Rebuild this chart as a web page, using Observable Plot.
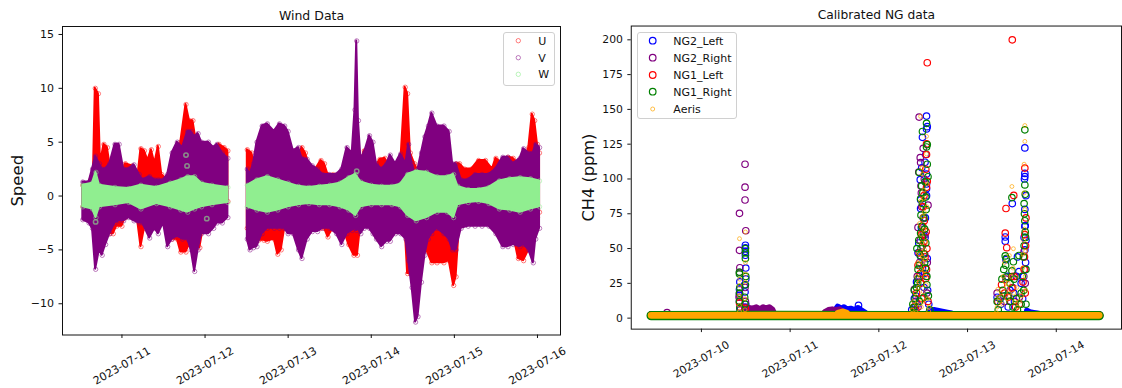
<!DOCTYPE html>
<html><head><meta charset="utf-8">
<script src="https://cdn.jsdelivr.net/npm/d3@7"></script>
<script src="https://cdn.jsdelivr.net/npm/@observablehq/plot@0.6"></script>
<style>
body{margin:0;background:#fff;font-family:"DejaVu Sans",sans-serif;}
#wrap{position:relative;width:1122px;height:388px;overflow:hidden;background:#fff;}
#left{position:absolute;left:0;top:0;z-index:2;}
#right{position:absolute;left:561px;top:0;z-index:1;}
.leg{position:absolute;background:rgba(255,255,255,0.8);border:1px solid #d0d0d0;border-radius:3px;box-sizing:border-box;z-index:3;}
.leg svg{position:absolute;left:0;top:0;overflow:visible;}
</style></head><body>
<div id="wrap"><div id="left"></div><div id="right"></div>
<div class="leg" id="legL" style="left:503px;top:32px;width:52px;height:54px;"></div>
<div class="leg" id="legR" style="left:637px;top:32px;width:100px;height:87px;"></div>
</div>
<script>
// ---------- time helper: hours since 2023-07-10 00:00 UTC ----------
const T0 = Date.UTC(2023, 6, 10);
const t = h => new Date(T0 + h * 3600000);

// ---------- LEFT PANEL: Wind data envelopes [hour, low, high] ----------
const uWind = [
[12.7,-1.0,1.0],[14.5,-1.2,1.2],[15.8,-2.0,2.5],[16.3,-3.0,10.0],[17.2,-3.0,9.5],[17.8,-2.5,3.0],
[18.8,-2.8,4.8],[19.8,-3.0,4.5],[20.5,-3.5,3.0],[21.5,-3.5,2.5],[22.5,-2.8,3.0],[24,-2.8,2.0],
[25,-2.0,3.0],[27,-2.0,2.8],[28.5,-2.2,1.5],[29.5,-4.7,4.4],[30.5,-3.0,4.2],[31.5,-2.5,3.3],
[32.5,-2.5,4.3],[33.5,-2.3,3.0],[34.5,-2.0,4.6],[35.5,-2.0,2.0],[37,-2.0,1.5],[38.5,-4.0,1.5],
[40,-4.0,2.0],[41,-5.2,5.0],[42.5,-5.2,8.5],[43.5,-4.5,7.0],[44.5,-4.0,7.0],[45.5,-4.5,5.0],
[46.5,-4.8,4.0],[48,-2.0,4.3],[49.5,-2.5,3.5],[51,-1.5,4.0],[52,-1.0,4.8],[53.5,-1.0,4.5],[54.6,-0.5,4.2],
[57,NaN,NaN],
[60.2,-3.0,4.3],[61.5,-3.5,4.0],[62.5,-4.0,2.5],[63.5,-4.1,2.0],[65,-4.1,2.0],[66,-4.2,2.0],
[68,-4.0,2.0],[69,-5.4,1.5],[70,-5.0,2.0],[71,-3.0,1.5],[72.5,-2.0,2.0],[74.5,-2.0,3.0],
[76,-2.5,4.5],[77,-2.5,4.0],[78.5,-3.0,2.5],[80,-3.0,2.5],[81.5,-3.0,3.3],[82.5,-3.0,3.0],
[83.5,-3.8,2.0],[85,-3.0,2.0],[86.5,-2.5,2.0],[88,-3.0,1.5],[89.5,-4.5,1.5],[91,-5.5,1.5],
[92,-5.5,2.0],[93,-2.5,3.0],[94,-2.5,4.2],[95.5,-1.5,2.5],[97,-1.5,2.5],[98.5,-1.5,3.4],
[100,-2.4,3.5],[101.5,-2.4,2.5],[103,-3.0,2.0],[104.5,-3.0,3.0],[105.8,-3.0,10.1],[106.5,-7.2,9.5],
[107.3,-7.2,4.0],[108.5,-5.0,3.0],[110,-4.0,2.0],[112,-5.0,1.5],[113.5,-6.2,1.5],[115,-6.2,1.5],
[117,-6.2,1.5],[118.5,-6.0,1.5],[119.8,-8.3,2.0],[120.5,-7.5,3.0],[121.5,-2.5,3.0],[123,-2.0,2.5],
[125,-2.0,2.5],[127,-2.5,3.3],[129,-2.5,3.3],[131,-2.5,2.5],[132,-3.0,3.5],[134,-3.0,3.0],
[135.5,-3.0,3.6],[137,-3.5,3.5],[138.5,-5.8,3.0],[140,-6.0,3.0],[141.5,-5.0,4.5],[142.5,-4.0,7.6],
[143.2,-3.0,7.0],[144,-2.0,4.8],[144.6,-1.5,4.0]];

const vWind = [
[12.7,-2.2,1.3],[14.5,-2.5,1.3],[15.5,-3.0,2.5],[16.4,-6.8,3.7],[17.5,-5.0,3.0],[18.3,-5.5,2.5],
[19.3,-4.5,2.5],[20.5,-3.5,3.0],[22,-2.5,4.8],[23.2,-2.3,4.8],[24.5,-2.3,2.5],[26,-2.0,2.5],
[27.5,-2.3,2.9],[29,-2.5,2.0],[30,-2.5,1.5],[32,-3.9,1.8],[33.5,-3.0,1.5],[34.5,-3.5,1.5],
[36,-2.5,1.5],[37.2,-4.7,2.0],[38.5,-4.0,4.0],[40,-3.7,5.0],[41.5,-4.0,4.5],[43,-4.0,6.0],
[44,-5.0,6.0],[45,-7.0,5.5],[46,-5.0,5.8],[47,-3.5,5.0],[49,-3.5,5.0],[50.5,-3.0,4.5],
[51.5,-2.5,4.8],[53,-2.5,4.0],[54.6,-2.0,3.5],
[57,NaN,NaN],
[60.2,-4.0,2.5],[61,-5.0,2.0],[62,-4.8,3.0],[63,-4.7,5.0],[64.5,-3.5,6.5],[66,-3.0,6.7],
[68,-3.0,6.0],[69.5,-3.0,6.7],[71,-3.0,6.5],[72,-3.5,6.0],[73.5,-3.5,4.2],[75,-5.0,4.5],
[76,-5.8,3.5],[77.5,-4.0,3.4],[79,-3.3,2.8],[80.5,-3.3,2.5],[82,-3.0,2.0],[84,-3.0,2.0],
[86,-3.5,2.0],[87.5,-4.5,2.5],[89,-3.5,4.5],[90.5,-3.2,4.0],[91.3,-3.0,8.0],[91.8,-3.2,14.4],
[92.3,-3.0,7.0],[93,-3.5,3.5],[94,-3.0,4.0],[95.5,-3.0,5.6],[96.5,-3.5,5.0],[97.5,-4.0,3.0],
[99,-4.7,2.5],[100.5,-4.2,3.0],[101.5,-4.2,3.8],[103,-3.5,3.0],[104.5,-3.5,3.9],[106,-4.0,3.0],
[106.8,-6.0,4.8],[107.8,-8.5,3.0],[108.8,-11.7,2.0],[109.5,-11.2,2.5],[110.5,-8.0,4.0],
[111.5,-5.5,5.5],[112.5,-4.0,6.5],[113.5,-3.5,7.7],[115,-3.0,6.5],[117,-3.5,6.5],[118.5,-4.0,6.0],
[119.5,-5.0,3.0],[120.5,-5.0,3.0],[122,-3.0,1.5],[124,-2.8,1.5],[126,-2.8,2.0],[128,-2.8,2.0],
[130,-2.8,2.0],[132,-3.5,2.5],[134,-4.7,3.6],[135.5,-4.7,3.6],[137,-4.5,3.0],[139,-4.7,3.5],
[140,-4.5,4.4],[141.5,-5.0,4.0],[142.8,-6.2,4.0],[143.5,-4.0,4.8],[144.6,-3.0,4.5]];

const wWind = [
[12.7,-1.0,1.0],[15.5,-1.2,1.2],[16.5,-2.0,2.2],[17.5,-1.0,1.0],[22,-0.8,0.8],[26,-0.6,0.7],
[29.5,-1.2,1.0],[34,-0.7,0.8],[38,-1.0,1.2],[41,-1.3,1.5],[43,-1.5,1.8],[45,-1.2,1.8],
[47,-1.0,1.2],[50,-0.8,1.0],[54.6,-0.6,0.8],
[57,NaN,NaN],
[60.2,-1.0,1.0],[63,-1.3,1.5],[66,-1.5,1.8],[69,-1.3,1.5],[72,-1.0,1.2],[75,-0.8,0.9],
[78,-0.7,0.8],[81,-0.8,0.9],[84,-0.8,1.0],[87,-1.0,1.2],[89.5,-1.3,1.7],[91.5,-1.8,2.0],
[93,-1.0,1.3],[96,-0.8,1.0],[99,-0.8,0.9],[102,-0.8,0.9],[104.5,-1.0,1.1],[106.5,-1.8,2.0],
[109,-2.3,2.3],[112,-2.0,2.2],[115,-1.5,1.8],[118,-1.5,1.8],[119.8,-2.0,2.0],[121,-0.8,0.9],
[124,-0.6,0.6],[127,-0.5,0.6],[130,-0.7,0.8],[133,-1.2,1.4],[136,-1.3,1.6],[139,-1.5,1.7],
[142,-1.2,1.6],[144.6,-1.0,1.4]];
const wOutliers = [[42.5,3.8],[42.8,2.8],[48.5,-2.1],[16.4,-2.4],[91.8,2.3]];

const windYTicks = [-10, -5, 0, 5, 10, 15];
const windXTicks = ["2023-07-11","2023-07-12","2023-07-13","2023-07-14","2023-07-15","2023-07-16"];

// ---------- RIGHT PANEL: CH4 (ppm) [hour, value] ----------
const ng2LeftBase  = [[-13.6,1.9],[20,2.0],[56,1.9],[107.6,1.9]];
const ng2RightBase = [[-13.6,1.9],[20,2.0],[56,1.9],[107.6,1.9]];
const ng1LeftBase  = [[-13.6,1.9],[20,1.9],[56,1.9],[107.6,1.9]];
const ng1RightBase = [[-13.6,1.8],[20,1.9],[56,1.8],[107.6,1.8]];
const aerisBase    = [[-13.6,2.0],[20,2.1],[56,2.0],[107.6,2.0]];

const ng2LeftHump = [[35.5,4],[36.5,6],[37,8],[38,6.5],[38.7,7.5],[39.5,6],[40.5,6.5],[41.5,5.5],[42.5,7],[43.5,5],[44.5,3.5],
  [50,NaN],[62,5],[63,5.5],[64,5],[65,4.5],[66,4],[67,3.5],[67.8,3],
  [75,NaN],[88.2,5],[89,4],[90,3.5],[91,3],[92,2.5]];
const ng2RightHump = [[12.2,6],[13,7],[14,6.5],[15,7.5],[16,6],[16.8,7.5],[17.5,6.5],[18.5,7.5],[19.3,6],[19.8,3],
  [25,NaN],[33.5,4],[34.5,5.5],[35.5,6],[36.5,5.5],[37.5,6],[38.2,4.5]];
const aerisHump = [[37,3.5],[38.5,4.5],[39.5,3.5]];

const ng2Left = [[10.3,16.4],[10.3,20.7],[11.8,18.8],[12.0,28.2],[11.9,45.2],[11.9,48],[11.9,50.5],[11.9,52.4],[10.3,12],[11.8,8],[10.5,6],[12.0,10],
  [10.4,26],[11.7,24],[12,36],
  [42.5,9.2],
  [60.9,145.2],[61.1,137.6],[60.9,136],[59.8,129.9],[60.7,117.6],[60.9,103.5],[59.2,99.5],[60.9,96.4],[60.9,93],[59.3,78.8],[58.6,47],[61.1,42.8],[57.6,14],[58.0,16],[59.3,85],[60.9,88],[59.5,65],[60.5,58],[59,30],[60.2,22],[57.8,8],[61.5,10],[59.8,36],[60.6,72],[56.9,6],
  [58.2,26],[58.8,54],[59.4,44],[60.0,60],[60.4,32],[61.2,20],[58.4,10],[61.6,4],[59.6,108],[60.5,112],
  [84.1,82.3],[82.2,58.3],[82.2,55.3],[85.9,33.4],[87.5,122.3],[87.5,104],[87.5,101.7],[87.5,78.1],[87.5,65.9],[87.5,49],[82.4,42],[85.5,44],[80,15],[81,10],[83.5,20],[86.5,25],[87.7,40],[87.3,58],[84.5,18],[82.8,30],[87.6,66.5],[87.8,88],[87.4,100],
  [81.8,16],[83.0,8],[84.7,12],[85.2,30],[86.9,14],[87.2,30],[87.8,56]];
const ng2Right = [[-9.3,4],[11.8,110.6],[11.8,94.1],[11.8,84.9],[10.3,75.3],[12.0,62.8],[10.3,48.7],[10.4,36.2],[10.3,32.9],[10.3,17.6],[10.2,15],[11.8,22],[11.9,12],[10.4,8],[11.8,6],
  [58.9,144.5],[59.2,115.3],[59.3,111.8],[61.3,81.2],[58.6,65.2],[60,72],[57.6,20.7],[59.5,90],[60.5,60],[59,40],[60.8,30],[58,12],[61,18],[59.8,52],[60.3,100],[58.8,105],
  [58.4,30],[59.2,56],[59.6,80],[60.4,46],[61.1,40],[58.6,8],[60.0,122],[59.4,95],
  [80,18],[82.4,28],[84.2,22],[87.5,35],[87.3,48],[86,15],[82,12],[87.6,25]];
const ng1Left = [[10.3,11],[11.9,7],
  [61.1,183.5],[60.9,125.2],[60.9,117.6],[60.7,107],[61.1,98.3],[60.9,94],[60,80],[60.3,70],[58.9,47],[60.9,35],[60.7,28.5],[59.5,60],[58.2,18],[61.3,12],[59.3,25],[60.2,55],[57.5,8],
  [58.6,38],[59.2,32],[59.9,66],[60.5,44],[61.0,50],[59.6,14],[58.0,6],[60.2,88],[60.8,62],
  [84.1,200],[82.4,78.8],[84.5,88.2],[82.2,61.1],[82.6,50.6],[84.0,29.9],[84.0,21.6],[87.5,107.8],[87.5,60],[87.3,35],[80.2,12],[83,15],[86,10],[87.7,52],[87.6,18],
  [81.2,24],[82.0,18],[83.6,12],[84.6,30],[85.0,8],[87.0,26],[87.4,44],[87.8,72]];
const ng1Right = [[11.9,49.9],[11.9,47],[11.9,42.8],[10.3,33],[10.3,31.7],[11.9,24],[10.3,12.2],[10.3,18],[11.8,10],[10.4,7],
  [10.4,22],[11.7,15],[12.0,30],
  [60.9,140],[59.8,134.1],[61.1,124.7],[60.9,123],[61.1,110.6],[58.9,104.7],[61.3,101.6],[59.3,85.8],[60.7,87],[59.8,82.3],[60.2,72],[59.3,61.1],[60.7,54],[58.6,35],[57.6,19.9],[57.4,7.5],[59.2,45],[60.4,40],[59.6,66],[58.5,25],[61,30],[59,12],[60.2,15],[59.6,95],[58.3,50],
  [57.2,10],[57.8,14],[58.2,22],[58.6,28],[59.0,38],[59.4,50],[59.8,58],[60.2,46],[60.6,36],[61.0,24],[61.4,16],[57.5,4],[61.8,6],[58.8,56],[59.4,74],[60.4,64],[60.8,78],[59.9,90],[60.5,98],
  [87.5,135.3],[87.5,95.7],[87.3,82.3],[84.0,86.6],[87.5,70],[82.2,44.7],[84.4,40.5],[82.4,29.5],[87.7,58],[85.9,45],[80,12],[81.5,20],[83.5,25],[86.5,18],[87.6,89],[87.4,75],[82.5,43],[84.3,8],[87.8,10],
  [80.3,6],[80.8,14],[81.3,28],[81.8,35],[82.3,38],[82.9,16],[83.5,12],[84.0,34],[84.6,28],[85.2,14],[85.5,6],
  [86.8,30],[87.1,44],[87.3,52],[87.6,62],[87.2,20],[86.5,10],[87.8,35]];
const aeris = [[10.3,57.1],[11.9,61.9],[11.9,31.7],[10.3,23.5],[11.8,13.9],[10.3,9],[11.9,26],[10.2,16],[11.8,6],
  [10.4,28],[11.9,40],[10.3,5],
  [59.3,145],[60.9,130.6],[59.8,103.5],[61.1,96.4],[60.2,92],[59.3,84],[59.8,73],[60.2,63.5],[60.4,49],[59.3,35],[58.9,26],[60,19],[59.8,12],[58.5,40],[60.7,55],[59,68],[61,80],[58.2,10],[60.5,30],[59.5,8],[61.5,5],[57,6],[60.9,118],[59.8,44],
  [57.4,12],[57.9,18],[58.3,30],[58.7,22],[59.1,46],[59.6,54],[60.0,40],[60.4,34],[60.8,24],[61.2,14],[58.1,4],[61.6,8],[59.4,60],[60.1,86],[60.3,76],[59.7,108],[60.6,42],
  [87.5,138.4],[87.5,127],[87.3,110.6],[84.0,94.6],[84.4,49.9],[80.2,20.7],[87.3,90],[87.5,78],[83.3,45],[82,40],[80.5,15],[81.5,10],[83,25],[84.5,18],[86,12],[87.6,30],[82.5,22],[87.7,48],[85.5,8],
  [80.0,8],[80.6,12],[81.1,18],[81.6,30],[82.1,26],[82.7,14],[83.2,18],[83.8,30],[84.3,36],[84.8,12],[85.3,22],[79.8,4],
  [86.9,36],[87.2,56],[87.4,64],[87.7,20],[86.6,16],[87.0,46]];

const ch4YTicks = [0, 25, 50, 75, 100, 125, 150, 175, 200];
const ch4XTicks = ["2023-07-10","2023-07-11","2023-07-12","2023-07-13","2023-07-14"];

// ---------- helpers ----------
const fmtNum = d => d < 0 ? "\u2212" + Math.abs(d) : String(d);
const toDate = s => new Date(s + "T00:00:00Z");
const fontL = {fontFamily: "DejaVu Sans", fontSize: "11px", color: "#111", background: "white", overflow: "visible"};
const fontR = {fontFamily: "DejaVu Sans", fontSize: "11px", color: "#111", background: "transparent", overflow: "visible"};

function xAxisMarks(ticks) {
  const dates = ticks.map(toDate);
  return [
    Plot.axisX({ticks: dates, tickSize: 3.5, tickFormat: () => "", label: null}),
    Plot.text(dates, {x: d => d, text: (d, i) => ticks[i], frameAnchor: "bottom", dy: 31, rotate: -30,
      textAnchor: "middle", lineAnchor: "middle", fontSize: 11})
  ];
}

// ---------- LEFT PLOT ----------
const windSeries = [[uWind, "red"], [vWind, "purple"], [wWind, "lightgreen"]];
const leftMarks = [];
for (const [arr, col] of windSeries) {
  leftMarks.push(Plot.areaY(arr, {x: d => t(d[0]), y1: d => d[1], y2: d => d[2], fill: col, stroke: col, strokeWidth: 2}));
  leftMarks.push(Plot.dot(arr.filter(d => !isNaN(d[1])), {x: d => t(d[0]), y: d => d[2], r: 2.2, stroke: col, strokeOpacity: 0.5, strokeWidth: 1}));
  leftMarks.push(Plot.dot(arr.filter(d => !isNaN(d[1])), {x: d => t(d[0]), y: d => d[1], r: 2.2, stroke: col, strokeOpacity: 0.5, strokeWidth: 1}));
}
leftMarks.push(Plot.dot(wOutliers, {x: d => t(d[0]), y: d => d[1], r: 2.2, stroke: "lightgreen", strokeOpacity: 0.6}));

const left = Plot.plot({
  width: 561, height: 388,
  marginLeft: 62, marginRight: 1, marginTop: 26, marginBottom: 53.5,
  style: fontL,
  x: {type: "utc", domain: [new Date("2023-07-10T06:50:00Z"), new Date("2023-07-16T06:39:00Z")]},
  y: {domain: [-12.9, 15.74]},
  marks: [
    ...leftMarks,
    Plot.frame({stroke: "#111", strokeWidth: 1}),
    Plot.axisY({ticks: windYTicks, tickSize: 3.5, tickPadding: 5, tickFormat: fmtNum, label: null}),
    ...xAxisMarks(windXTicks),
    Plot.text(["Wind Data"], {frameAnchor: "top", dy: -11, fontSize: 12.5, textAnchor: "middle", lineAnchor: "middle"}),
    Plot.text(["Speed"], {frameAnchor: "left", dx: -45, rotate: -90, fontSize: 16.5, textAnchor: "middle", lineAnchor: "middle"})
  ]
});
document.getElementById("left").appendChild(left);

// ---------- RIGHT PLOT ----------
const ch4Series = [
  {name: "NG2_Left", col: "blue", base: ng2LeftBase, hump: ng2LeftHump, pts: ng2Left, r: 3.3},
  {name: "NG2_Right", col: "purple", base: ng2RightBase, hump: ng2RightHump, pts: ng2Right, r: 3.3},
  {name: "NG1_Left", col: "red", base: ng1LeftBase, hump: [], pts: ng1Left, r: 3.3},
  {name: "NG1_Right", col: "green", base: ng1RightBase, hump: [], pts: ng1Right, r: 3.3},
  {name: "Aeris", col: "orange", base: aerisBase, hump: aerisHump, pts: aeris, r: 2}
];
const rightMarks = [];
for (const s of ch4Series) {
  const bw = s.name === "Aeris" ? 7 : (s.name === "NG1_Right" ? 9.5 : 8.5);
  rightMarks.push(Plot.line(s.base, {x: d => t(d[0]), y: d => d[1], stroke: s.col, strokeWidth: bw}));
  if (s.hump.length) {
    rightMarks.push(Plot.areaY(s.hump, {x: d => t(d[0]), y1: 1.9, y2: d => d[1], fill: s.col, stroke: s.col, strokeWidth: 6, strokeLinejoin: "round"}));
  }
  rightMarks.push(Plot.dot(s.pts, {x: d => t(d[0]), y: d => d[1], r: s.r, stroke: s.col, strokeWidth: s.name === "Aeris" ? 1 : 1.2,
    strokeOpacity: s.name === "Aeris" ? 0.7 : 1}));
}

const right = Plot.plot({
  width: 571, height: 388,
  marginLeft: 71, marginRight: 1, marginTop: 26, marginBottom: 53.5,
  style: fontR,
  x: {type: "utc", domain: [new Date("2023-07-09T05:01:00Z"), new Date("2023-07-14T17:39:00Z")]},
  y: {domain: [-7.9, 209.9]},
  marks: [
    ...rightMarks,
    Plot.frame({stroke: "#111", strokeWidth: 1}),
    Plot.axisY({ticks: ch4YTicks, tickSize: 3.5, tickPadding: 5, tickFormat: fmtNum, label: null}),
    ...xAxisMarks(ch4XTicks),
    Plot.text(["Calibrated NG data"], {frameAnchor: "top", dy: -11, fontSize: 12.5, textAnchor: "middle", lineAnchor: "middle"}),
    Plot.text(["CH4 (ppm)"], {frameAnchor: "left", dx: -43, rotate: -90, fontSize: 16.5, textAnchor: "middle", lineAnchor: "middle"})
  ]
});
document.getElementById("right").appendChild(right);

// ---------- legends ----------
function legend(id, items, boxLeft, boxTop, mx, tx, ys) {
  const el = document.getElementById(id);
  let svg = `<svg width="1" height="1">`;
  items.forEach((it, i) => {
    const cy = ys[i] - boxTop - 1, cx = mx - boxLeft - 1;
    svg += `<circle cx="${cx}" cy="${cy}" r="${it.r}" fill="none" stroke="${it.col}" stroke-width="${it.sw}" stroke-opacity="${it.op}"/>`;
    svg += `<text x="${tx - boxLeft - 1}" y="${cy}" dy="0.36em" font-family="DejaVu Sans" font-size="11" fill="#111">${it.name}</text>`;
  });
  svg += `</svg>`;
  el.innerHTML = svg;
}
legend("legL", [
  {name: "U", col: "red", r: 2.2, sw: 1, op: 0.5},
  {name: "V", col: "purple", r: 2.2, sw: 1, op: 0.5},
  {name: "W", col: "lightgreen", r: 2.2, sw: 1, op: 0.6}
], 503, 32, 518.3, 538.3, [40.7, 57.7, 74.3]);
legend("legR", ch4Series.map(s => ({name: s.name, col: s.col, r: s.r, sw: s.name === "Aeris" ? 1 : 1.2, op: s.name === "Aeris" ? 0.7 : 1})),
  637, 32, 652.7, 673.3, [40.7, 57.7, 75, 91.7, 109]);
</script>
</body></html>
